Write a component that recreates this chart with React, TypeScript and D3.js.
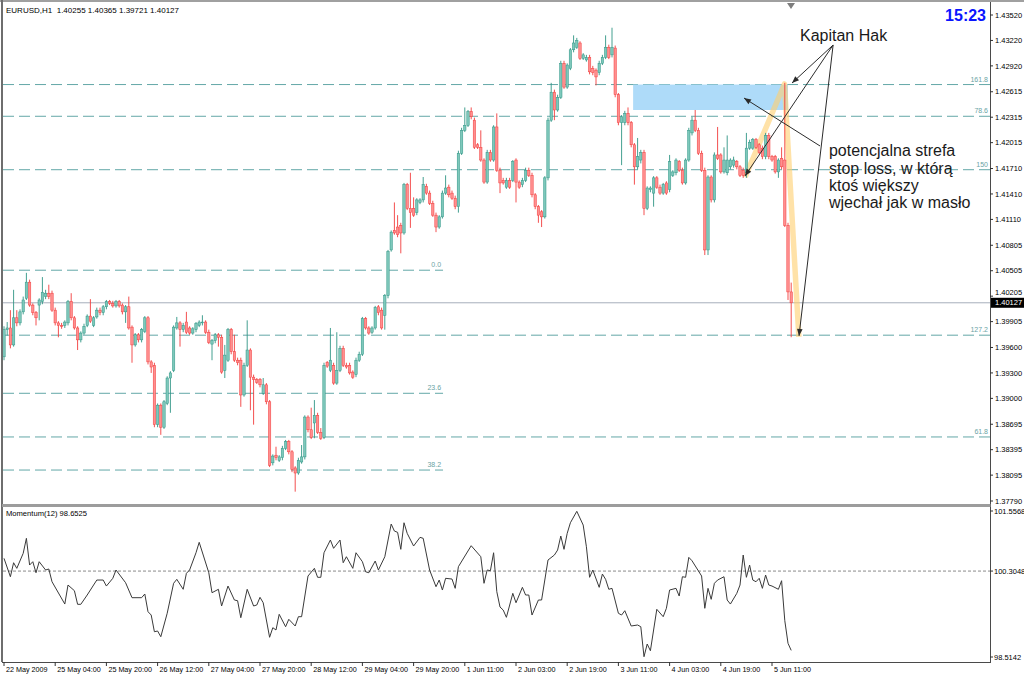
import React from 'react';
import * as d3 from 'd3';

const W = 1024;
const H = 679;

const TITLE = 'EURUSD,H1  1.40255 1.40365 1.39721 1.40127';
const CLOCK = '15:23';
const MOMENTUM_TITLE = 'Momentum(12) 98.6525';

// H1 candles, [open, high, low, close] in pips (price x 10000)
const candles: number[][] = [
[13949,13985,13945,13981],[13981,13990,13974,13983],[13983,14004,13959,13963],[13963,14028,13961,13995],
[13995,14004,13985,13989],[13989,14005,13986,14002],[14002,14020,13999,14016],[14018,14048,14016,14037],
[14037,14040,14008,14010],[14010,14012,13998,14001],[14001,14003,13986,13995],[14010,14018,13992,14016],
[14014,14043,14011,14025],[14020,14028,14017,14024],[14024,14034,14017,14020],[14024,14027,14002,14004],
[14004,14007,13986,13989],[13989,13991,13972,13986],[13986,13989,13982,13985],[13986,13992,13983,13990],
[13989,14016,13986,14014],[14014,14024,13992,13995],[13995,13997,13981,13983],[13983,13985,13957,13969],
[13969,13979,13966,13977],[13977,13988,13975,13985],[13986,13999,13984,13997],[13997,14017,13989,13991],
[13986,13997,13984,13995],[13996,14007,13994,14004],[14004,14007,13998,14001],[14001,14010,13998,14008],
[14008,14016,14005,14014],[14014,14016,14010,14012],[14012,14015,14007,14009],[14009,14016,14007,14014],
[14014,14016,14007,14009],[14010,14012,13999,14002],[14002,14010,13989,14008],[14008,14020,13981,13983],
[13984,13986,13942,13963],[13963,13977,13961,13975],[13975,13977,13966,13969],[13969,13983,13966,13981],
[13979,13997,13977,13995],[13995,13997,13940,13943],[13943,13945,13930,13937],[13939,13942,13866,13869],
[13869,13894,13866,13892],[13892,13894,13857,13866],[13866,13898,13864,13896],[13894,13926,13892,13924],
[13924,13932,13883,13930],[13933,13986,13931,13984],[13983,13996,13981,13989],[13989,13991,13961,13981],
[13981,13989,13978,13986],[13990,14002,13976,13978],[13983,13985,13975,13977],[13977,13984,13975,13982],
[13981,13990,13978,13988],[13986,13992,13984,13990],[13989,13998,13986,13990],[13990,13992,13976,13978],
[13978,13981,13964,13966],[13964,13970,13945,13968],[13968,13977,13965,13975],[13975,13977,13961,13972],
[13972,13975,13929,13931],[13933,13963,13924,13951],[13945,13983,13943,13981],[13981,13983,13952,13955],
[13955,13975,13943,13945],[13945,13948,13939,13942],[13945,13948,13890,13904],[13904,13942,13902,13939],
[13939,13992,13937,13957],[13957,13959,13886,13925],[13925,13928,13869,13922],[13922,13924,13917,13919],
[13922,13924,13913,13916],[13906,13924,13904,13916],[13916,13918,13893,13896],[13896,13898,13819,13821],
[13824,13834,13821,13832],[13833,13843,13827,13830],[13827,13833,13825,13831],[13830,13844,13827,13841],
[13841,13851,13839,13849],[13849,13851,13834,13837],[13837,13839,13813,13816],[13818,13820,13790,13812],
[13812,13830,13810,13827],[13825,13845,13823,13831],[13831,13880,13828,13878],[13878,13880,13860,13863],
[13863,13889,13852,13854],[13871,13898,13853,13880],[13880,13883,13858,13860],[13860,13865,13851,13853],
[13854,13942,13852,13939],[13942,13944,13936,13938],[13933,13983,13931,13945],[13939,13942,13916,13918],
[13918,13978,13916,13933],[13933,13962,13931,13959],[13959,13962,13937,13939],[13939,13942,13935,13937],
[13939,13942,13928,13930],[13931,13933,13923,13925],[13928,13948,13925,13945],[13945,13955,13943,13952],
[13952,13996,13950,13994],[13994,13996,13981,13983],[13983,13985,13975,13977],[13978,13985,13976,13983],
[13983,14009,13981,14007],[14008,14010,13998,14001],[14004,14007,13981,13983],[13998,14023,13981,14021],
[14021,14075,14018,14073],[14075,14098,14073,14096],[14098,14131,14093,14095],[14102,14116,14090,14093],
[14104,14107,14071,14095],[14095,14154,14093,14152],[14152,14154,14122,14124],[14124,14166,14101,14119],
[14124,14137,14114,14116],[14119,14136,14116,14134],[14131,14136,14129,14134],[14134,14161,14131,14152],
[14150,14153,14140,14142],[14142,14145,14128,14130],[14130,14133,14114,14116],[14116,14119,14096,14102],
[14102,14116,14100,14114],[14114,14145,14112,14142],[14142,14163,14140,14148],[14149,14152,14137,14140],
[14142,14145,14134,14136],[14136,14139,14123,14126],[14126,14192,14119,14189],[14189,14219,14187,14216],
[14216,14243,14214,14222],[14222,14240,14220,14238],[14238,14243,14229,14232],[14228,14231,14194,14196],
[14199,14201,14194,14196],[14196,14216,14179,14181],[14181,14183,14153,14155],[14155,14193,14153,14190],
[14190,14193,14179,14181],[14181,14222,14179,14220],[14220,14236,14167,14169],[14169,14172,14142,14154],
[14157,14160,14152,14154],[14149,14160,14147,14157],[14157,14160,14147,14149],[14157,14181,14155,14179],
[14181,14183,14131,14155],[14155,14157,14147,14149],[14152,14160,14149,14157],[14157,14172,14155,14169],
[14169,14172,14161,14163],[14163,14166,14137,14140],[14140,14142,14123,14126],[14126,14128,14107,14116],
[14120,14122,14102,14114],[14114,14162,14112,14160],[14160,14231,14157,14228],[14228,14272,14226,14261],
[14261,14264,14228,14240],[14240,14258,14238,14255],[14255,14298,14253,14295],[14295,14298,14265,14267],
[14267,14295,14265,14293],[14289,14313,14287,14311],[14311,14328,14308,14319],[14314,14325,14312,14322],
[14319,14321,14299,14301],[14301,14307,14299,14305],[14299,14305,14297,14302],[14302,14305,14282,14285],
[14289,14292,14281,14284],[14287,14289,14269,14279],[14284,14298,14281,14295],[14295,14305,14293,14302],
[14302,14328,14300,14314],[14314,14317,14300,14302],[14305,14337,14302,14314],[14313,14316,14255,14258],
[14258,14260,14222,14225],[14225,14234,14175,14232],[14225,14239,14222,14236],[14236,14243,14222,14225],
[14225,14227,14196,14199],[14199,14201,14152,14173],[14173,14207,14170,14185],[14181,14193,14177,14190],
[14190,14193,14116,14124],[14124,14150,14122,14148],[14146,14150,14143,14148],[14142,14162,14126,14160],
[14160,14162,14147,14149],[14149,14152,14140,14142],[14142,14154,14140,14152],[14154,14156,14140,14142],
[14146,14187,14143,14179],[14163,14169,14161,14167],[14166,14183,14163,14181],[14179,14181,14167,14169],
[14169,14172,14152,14154],[14154,14183,14152,14181],[14181,14219,14179,14216],[14213,14232,14210,14228],
[14228,14240,14214,14216],[14216,14219,14187,14189],[14189,14192,14167,14169],[14169,14172,14069,14075],
[14075,14163,14069,14161],[14161,14163,14131,14134],[14134,14190,14131,14187],[14187,14220,14181,14183],
[14187,14189,14165,14167],[14167,14196,14165,14181],[14166,14210,14163,14181],[14173,14183,14170,14181],
[14175,14185,14172,14181],[14179,14181,14170,14173],[14173,14175,14161,14163],[14169,14172,14160,14163],
[14166,14213,14160,14195],[14195,14205,14193,14202],[14195,14207,14193,14205],[14205,14207,14194,14196],
[14199,14201,14188,14190],[14195,14198,14182,14185],[14185,14213,14182,14210],[14210,14213,14182,14185],
[14185,14187,14179,14181],[14185,14187,14165,14167],[14167,14183,14160,14181],[14183,14196,14170,14173],
[14181,14272,14102,14104],[14104,14107,14016,14025.5],[14025.5,14036.5,13972.1,14012.7],
];

// Momentum(12) vertices: [bar index, value]
const momentum: number[][] = [
[0,100.570],[2,100.187],[3,100.479],[4,100.362],[6,100.675],[7,100.987],[8,100.431],[9,100.500],
[10,100.270],[11,100.500],[13,100.327],[14,100.348],[15,100.083],[19,99.618],[20,100.014],[22,99.896],
[23,99.612],[24,99.612],[26,99.806],[29,100.118],[31,100.118],[32,99.993],[34,100.154],[35,100.327],
[38,100.062],[40,99.750],[43,99.750],[44,99.827],[45,99.458],[46,99.389],[47,99.041],[48,99.056],
[49,98.937],[51,99.425],[53,100.050],[54,100.133],[56,99.925],[57,100.258],[58,100.327],[60,100.687],
[61,100.904],[64,100.270],[65,99.854],[67,99.925],[68,99.577],[70,99.993],[72,99.702],[73,99.687],
[74,99.333],[76,99.925],[78,99.577],[79,99.598],[80,99.758],[81,99.645],[83,98.925],[84,99.125],
[85,99.077],[86,99.404],[88,99.145],[89,99.300],[91,99.160],[92,99.354],[93,99.354],[95,100.202],
[97,100.362],[98,100.175],[99,100.175],[100,100.687],[102,100.952],[103,100.779],[105,100.952],[106,100.479],
[107,100.604],[109,100.362],[110,100.687],[112,100.500],[113,100.291],[114,100.270],[116,100.514],[117,100.327],
[119,100.604],[121,101.285],[122,101.139],[123,101.112],[124,100.758],[125,101.312],[126,101.091],[128,100.827],
[130,101.008],[131,100.987],[133,100.327],[135,99.979],[136,100.118],[137,99.910],[138,100.154],[140,100.139],
[141,99.945],[142,100.396],[146,100.833],[149,100.604],[150,100.050],[151,100.327],[152,100.312],[153,100.687],
[154,99.875],[155,99.556],[156,99.493],[157,99.341],[159,99.841],[160,99.645],[162,99.966],[163,99.806],
[164,99.806],[165,99.389],[167,99.702],[168,99.702],[170,100.535],[172,100.639],[173,100.743],[174,101.035],
[175,100.758],[176,101.091],[177,101.312],[179,101.550],[181,101.264],[182,100.812],[183,100.175],[184,100.327],
[186,99.966],[187,100.243],[188,100.133],[189,99.925],[190,99.945],[192,99.425],[193,99.389],[194,99.479],
[196,99.160],[198,99.181],[199,99.145],[200,98.520],[201,98.785],[202,98.645],[204,99.508],[206,99.354],
[207,99.529],[208,99.910],[210,99.945],[211,99.785],[212,100.187],[213,100.175],[214,100.591],[215,100.520],
[218,100.202],[219,99.529],[220,99.945],[221,99.716],[222,100.050],[223,100.118],[225,100.187],[226,99.702],
[227,99.618],[229,99.841],[230,100.014],[231,100.639],[232,100.175],[233,100.431],[234,100.118],[235,100.083],
[236,100.154],[237,99.945],[238,100.223],[239,100.014],[240,99.993],[242,99.925],[243,100.104],[244,99.270],
[245,98.800],[246,98.6525],
];

const timeTickBars = [0, 16, 32, 48, 64, 80, 96, 112, 128, 144, 160, 176, 192, 208, 224, 240];
const timeTickLabels = ['22 May 2009', '25 May 04:00', '25 May 20:00', '26 May 12:00', '27 May 04:00',
  '27 May 20:00', '28 May 12:00', '29 May 04:00', '29 May 20:00', '1 Jun 11:00', '2 Jun 03:00',
  '2 Jun 19:00', '3 Jun 11:00', '4 Jun 03:00', '4 Jun 19:00', '5 Jun 11:00'];

const priceTicks = [1.4352, 1.4322, 1.4292, 1.42615, 1.42315, 1.42015, 1.4171, 1.4141, 1.4111, 1.40805,
  1.40505, 1.40205, 1.39905, 1.396, 1.393, 1.39, 1.38695, 1.38395, 1.38095, 1.3779];
const lastPrice = 1.40127;

const momentumTicks = [101.5568, 100.3048, 98.5142];
const momentumLevel = 100.3048;

const fibLevels = [1.4270, 1.42326, 1.41696, 1.40511, 1.39745, 1.3906, 1.38545, 1.38155];
const fibLabels = ['161.8', '78.6', '150', '0.0', '127.2', '23.6', '61.8', '38.2'];
const fibEndBars = [310, 310, 310, 137.2, 310, 137.2, 310, 137.2];

const zoneBars = [196.6, 245];
const zonePrices = [1.4270, 1.4240];

const zigzagBars = [231.6, 243.9, 248.4];
const zigzagPrices = [1.4161, 1.42707, 1.39724];

const hakOrigin = [259.1, 1.43166];
const hakTargetBars = [246.25, 231.56, 248.44];
const hakTargetPrices = [1.42718, 1.41622, 1.39736];
const zoneArrow = [[255, 1.41976], [231.25, 1.42541]];

const hakLabel = { text: 'Kapitan Hak', bar: 248.75, price: 1.43213 };
const noteLines = ['potencjalna strefa', 'stop loss, w którą', 'ktoś większy', 'wjechał jak w masło'];
const noteBar = 257.8;
const notePrices = [1.41858, 1.41645, 1.41445, 1.41245];

const FONT = "'Liberation Sans', Arial, sans-serif";
const BULL_LINE = '#2f9585';
const BULL_FILL = '#7ec8bb';
const BEAR_LINE = '#f23c3c';
const BEAR_FILL = '#ff8f8f';

export default function App() {
  const L = 3, R = 990, T = 3, MB = 504, MT = 507, BB = 662;
  const x = d3.scaleLinear().domain([0, 240]).range([4, 772]);
  const y = d3.scaleLinear().domain([1.3779, 1.4352]).range([501, 15]);
  const ym = d3.scaleLinear().domain([98.5142, 101.5568]).range([657, 511]);
  const P = (p: number) => p / 10000;
  const bodyW = 2.4;
  const fmt5 = d3.format('.5f');
  const fmt4 = d3.format('.4f');

  const momLine = d3.line<number[]>().x(d => x(d[0])).y(d => ym(d[1]))(momentum) || '';
  const zigLine = d3.line<number>().x((b) => x(b)).y((_, i) => y(zigzagPrices[i]))(zigzagBars) || '';

  const yLast = y(lastPrice);
  const boxH = 10;
  // keep tick labels clear of the current-price box
  const labelY = (v: number) => {
    const yy = y(v);
    if (Math.abs(yy - yLast) < 10.5) return yy < yLast ? yLast - 10.5 : yLast + 10.5;
    return yy;
  };

  return (
    <svg width={W} height={H} style={{ position: 'absolute', left: 0, top: 0, background: '#fff' }}
      fontFamily={FONT}>
      <defs>
        <clipPath id="mainClip"><rect x={L} y={T} width={R - L} height={MB - T} /></clipPath>
        <clipPath id="momClip"><rect x={L} y={MT} width={R - L} height={BB - MT} /></clipPath>
        <marker id="ah" viewBox="0 0 10 10" refX="10" refY="5" markerWidth="8" markerHeight="7"
          orient="auto" markerUnits="userSpaceOnUse">
          <path d="M0,1 L10,5 L0,9 z" fill="#2b2b2b" />
        </marker>
      </defs>
      <rect x={0} y={0} width={W} height={H} fill="#fff" />

      {/* main panel objects */}
      <g clipPath="url(#mainClip)">
        {fibLevels.map((lv, i) => (
          <line key={'f' + i} x1={L} x2={Math.min(x(fibEndBars[i]), R)} y1={y(lv)} y2={y(lv)}
            stroke="#63a7a7" strokeWidth={1} strokeDasharray="11,5" />
        ))}
        {fibLevels.map((lv, i) => (
          <text key={'fl' + i} x={Math.min(x(fibEndBars[i]), R) - 2} y={y(lv) - 3} textAnchor="end"
            fontSize={7} fill="#6aa3a5">{fibLabels[i]}</text>
        ))}
        <line x1={L} x2={R} y1={yLast} y2={yLast} stroke="#a6aebb" strokeWidth={1} />
        <rect x={x(zoneBars[0])} y={y(zonePrices[0])} width={x(zoneBars[1]) - x(zoneBars[0])}
          height={y(zonePrices[1]) - y(zonePrices[0])} fill="#aedbf9" />
        <path d={zigLine} fill="none" stroke="#ffcf6e" strokeOpacity={0.6} strokeWidth={5.5}
          strokeLinejoin="round" />
        {candles.map(([o, h, l, c], i) => {
          const up = c >= o;
          const cx = x(i);
          const yo = y(P(o)), yc = y(P(c));
          const top = Math.min(yo, yc);
          const hh = Math.max(0.8, Math.abs(yo - yc));
          return (
            <g key={i}>
              <line x1={cx} x2={cx} y1={y(P(h))} y2={y(P(l))} stroke={up ? BULL_LINE : BEAR_LINE} strokeWidth={0.9} />
              <rect x={cx - bodyW / 2} y={top} width={bodyW} height={hh} fill={up ? BULL_FILL : BEAR_FILL}
                stroke={up ? BULL_LINE : BEAR_LINE} strokeWidth={0.5} />
            </g>
          );
        })}
        {hakTargetBars.map((b, i) => (
          <line key={'ha' + i} x1={x(hakOrigin[0])} y1={y(hakOrigin[1])} x2={x(b)} y2={y(hakTargetPrices[i])}
            stroke="#2b2b2b" strokeWidth={1} markerEnd="url(#ah)" />
        ))}
        <line x1={x(zoneArrow[0][0])} y1={y(zoneArrow[0][1])} x2={x(zoneArrow[1][0])} y2={y(zoneArrow[1][1])}
          stroke="#2b2b2b" strokeWidth={1} markerEnd="url(#ah)" />
      </g>

      <text x={x(hakLabel.bar)} y={y(hakLabel.price)} fontSize={16} fill="#1a1a1a">{hakLabel.text}</text>
      {noteLines.map((t, i) => (
        <text key={'n' + i} x={x(noteBar)} y={y(notePrices[i])} fontSize={16} fill="#1a1a1a">{t}</text>
      ))}

      <text x={6} y={13} fontSize={8} fill="#000" style={{ whiteSpace: 'pre' }}>{TITLE}</text>
      <text x={986} y={21} fontSize={16} fontWeight="bold" fill="#0a14ff" textAnchor="end">{CLOCK}</text>
      <path d="M787,3 L795,3 L791,9 Z" fill="#7d7d7d" />

      {/* momentum panel */}
      <line x1={L} x2={R} y1={ym(momentumLevel)} y2={ym(momentumLevel)} stroke="#8a8a8a" strokeWidth={1}
        strokeDasharray="3,2" />
      <g clipPath="url(#momClip)">
        <path d={momLine} fill="none" stroke="#3a3a3a" strokeWidth={1} />
      </g>
      <text x={6} y={516} fontSize={7.6} fill="#000">{MOMENTUM_TITLE}</text>

      {/* frame */}
      <line x1={0} x2={W} y1={1} y2={1} stroke="#a0a0a0" strokeWidth={2} />
      <line x1={2} x2={2} y1={0} y2={BB} stroke="#6e6e6e" strokeWidth={2} />
      <line x1={R + 0.5} x2={R + 0.5} y1={2} y2={BB} stroke="#4a4a4a" strokeWidth={1} />
      <rect x={2} y={MB} width={R - 1.5} height={3} fill="#9c9c9c" />
      <line x1={2} x2={R + 1} y1={BB + 0.5} y2={BB + 0.5} stroke="#4a4a4a" strokeWidth={1} />

      {/* price axis */}
      {priceTicks.map((v, i) => (
        <g key={'p' + i}>
          <line x1={R} x2={R + 3} y1={y(v)} y2={y(v)} stroke="#333" />
          <text x={R + 5} y={labelY(v)} dy="0.35em" fontSize={7.5} fill="#000">{fmt5(v)}</text>
        </g>
      ))}
      <rect x={R + 1} y={yLast - boxH / 2} width={33} height={boxH} fill="#000" />
      <text x={R + 5} y={yLast} dy="0.35em" fontSize={7.5} fill="#fff">{fmt5(lastPrice)}</text>

      {/* momentum axis */}
      {momentumTicks.map((v, i) => (
        <g key={'m' + i}>
          <line x1={R} x2={R + 3} y1={ym(v)} y2={ym(v)} stroke="#333" />
          <text x={R + 4} y={ym(v)} dy="0.35em" fontSize={7.5} fill="#000">{fmt4(v)}</text>
        </g>
      ))}

      {/* time axis */}
      {timeTickBars.map((b, i) => (
        <g key={'t' + i}>
          <line x1={x(b)} x2={x(b)} y1={BB} y2={BB + 4} stroke="#333" />
          <text x={x(b) + 2} y={672} fontSize={7.2} fill="#000">{timeTickLabels[i]}</text>
        </g>
      ))}
    </svg>
  );
}
